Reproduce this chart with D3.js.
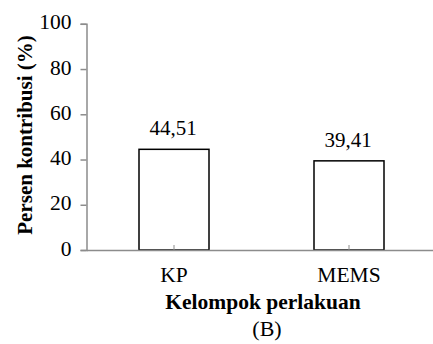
<!DOCTYPE html>
<html><head><meta charset="utf-8">
<script src="https://cdn.jsdelivr.net/npm/d3@7"></script>
<style>body{margin:0;background:#fff}svg{display:block}</style>
</head><body>
<script>
const categories = ["KP", "MEMS"];
const values = [44.51, 39.41];
const valueLabels = ["44,51", "39,41"];
const yTicks = [0, 20, 40, 60, 80, 100];

const FONT = "Liberation Serif";
const W = 433, H = 344;
const svg = d3.select("body").append("svg").attr("width", W).attr("height", H);
const x = d3.scaleBand().domain(categories).range([86.5, 436.5]).paddingInner(0.6).paddingOuter(0.3);
const y = d3.scaleLinear().domain([0, 100]).range([250, 23.8]);
const axisColor = "#8c8c8c";

// y axis
const ya = svg.append("g").attr("transform", "translate(86.5,0)")
  .call(d3.axisLeft(y).tickValues(yTicks).tickSize(6).tickPadding(9).tickFormat(d3.format("d")));
ya.attr("font-family", FONT).attr("font-size", 21.5);
ya.select(".domain").attr("stroke", axisColor).attr("stroke-width", 1.5);
ya.selectAll(".tick line").attr("stroke", axisColor).attr("stroke-width", 1.5);
ya.selectAll(".tick text").attr("fill", "#000").attr("dy", "0.24em");

// bars
svg.selectAll("rect.bar").data(values).enter().append("rect")
  .attr("x", (d, i) => x(categories[i]))
  .attr("y", d => y(d))
  .attr("width", x.bandwidth())
  .attr("height", d => y(0) - y(d))
  .attr("fill", "#fff").attr("stroke", "#000").attr("stroke-width", 1.5);

// x axis
const xa = svg.append("g").attr("transform", "translate(0,250)")
  .call(d3.axisBottom(x).tickSize(-5).tickSizeOuter(0));
xa.attr("font-family", FONT).attr("font-size", 21.5);
xa.select(".domain").attr("stroke", axisColor).attr("stroke-width", 1.5);
xa.selectAll(".tick line").attr("stroke", axisColor).attr("stroke-width", 1);
xa.selectAll(".tick text").attr("fill", "#000").attr("y", 31.5).attr("dy", 0);

// value labels
svg.selectAll("text.vl").data(values).enter().append("text")
  .attr("class", "vl")
  .attr("x", (d, i) => x(categories[i]) + x.bandwidth() / 2 - 1)
  .attr("y", d => y(d) - 14)
  .attr("text-anchor", "middle").attr("font-size", 21).attr("font-family", FONT)
  .text((d, i) => valueLabels[i]);

// axis titles
svg.append("text").attr("x", 263).attr("y", 309).attr("text-anchor", "middle")
  .attr("font-family", FONT).attr("font-size", 21.5).attr("font-weight", "bold").text("Kelompok perlakuan");
svg.append("text").attr("transform", "translate(32,135) rotate(-90)").attr("text-anchor", "middle")
  .attr("font-family", FONT).attr("font-size", 21).attr("font-weight", "bold").text("Persen kontribusi (%)");
svg.append("text").attr("x", 267).attr("y", 336).attr("text-anchor", "middle")
  .attr("font-family", FONT).attr("font-size", 22).text("(B)");
</script>
</body></html>
